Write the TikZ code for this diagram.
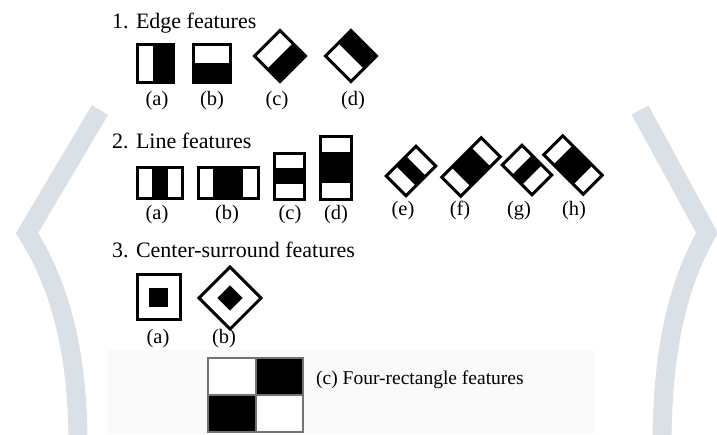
\documentclass[tikz,border=0pt]{standalone}
\usepackage{fontspec}
\setmainfont{Liberation Serif}
\definecolor{bandc}{HTML}{D9E1E6}
\begin{document}
\begin{tikzpicture}[x=1pt,y=-1pt,
  outl/.style={draw=black,line width=3pt},
  blk/.style={fill=black},
  head/.style={font=\fontsize{22}{24}\selectfont,anchor=base west,inner sep=0pt},
  lab/.style={font=\fontsize{20.5}{22}\selectfont,anchor=base,inner sep=0pt},
  band/.style={draw=bandc,line width=19pt},
  grid4/.style={draw=black!55,line width=1.3pt}]
\useasboundingbox (0,0) rectangle (717,434);
% background
\fill[black!2] (108,350) rectangle (595,434);
\draw[band] (100,110) -- (27,233) .. controls (50,270) and (78,330) .. (78,445);
\draw[band] (640,110) -- (707,233) .. controls (686,270) and (662,330) .. (662,445);
% headings
\node[head] (h1) at (112,28) {1. Edge features};
\node[head] (h2) at (112,148) {2. Line features};
\node[head] (h3) at (112,257) {3. Center-surround features};
\node[head,font=\fontsize{19.5}{22}\selectfont] (h4) at (316,384) {(c) Four-rectangle features};
% labels
\node[lab] (ea) at (157,105) {(a)};
\node[lab] (eb) at (212,105) {(b)};
\node[lab] (ec) at (277,105) {(c)};
\node[lab] (ed) at (353,105) {(d)};
\node[lab] (la) at (157,219) {(a)};
\node[lab] (lb) at (227,219) {(b)};
\node[lab] (lc) at (290,219) {(c)};
\node[lab] (ld) at (336,219) {(d)};
\node[lab] (le) at (403,215) {(e)};
\node[lab] (lf) at (460,215) {(f)};
\node[lab] (lg) at (519,215) {(g)};
\node[lab] (lh) at (574,215) {(h)};
\node[lab] (ca) at (158,343) {(a)};
\node[lab] (cb) at (224,343) {(b)};
% edge features
\fill[blk] (153,44) rectangle (173,82);
\draw[outl] (137,44) rectangle (173,82);
\fill[blk] (193,63) rectangle (230,82);
\draw[outl] (193,44) rectangle (230,82);
\begin{scope}[shift={(280,56)},rotate=45]
  \fill[blk] (-18,0) rectangle (18,18);
  \draw[outl] (-18,-18) rectangle (18,18);
\end{scope}
\begin{scope}[shift={(351,56)},rotate=45]
  \fill[blk] (0,-18) rectangle (18,18);
  \draw[outl] (-18,-18) rectangle (18,18);
\end{scope}
% line features
\fill[blk] (152,167) rectangle (168,198);
\draw[outl] (137,167) rectangle (182,198);
\fill[blk] (213,167) rectangle (243,198);
\draw[outl] (198,167) rectangle (258,198);
\fill[blk] (274,168) rectangle (304,184);
\draw[outl] (274,153) rectangle (304,199);
\fill[blk] (320,152) rectangle (351,183);
\draw[outl] (320,136) rectangle (351,199);
\begin{scope}[shift={(411,171)},rotate=45]
  \fill[blk] (-7,-14) rectangle (7,14);
  \draw[outl] (-21,-14) rectangle (21,14);
\end{scope}
\begin{scope}[shift={(471,167)},rotate=45]
  \fill[blk] (-14,-13.5) rectangle (14,13.5);
  \draw[outl] (-28,-13.5) rectangle (28,13.5);
\end{scope}
\begin{scope}[shift={(527,170)},rotate=-45]
  \fill[blk] (-7,-14) rectangle (7,14);
  \draw[outl] (-21,-14) rectangle (21,14);
\end{scope}
\begin{scope}[shift={(573,165)},rotate=-45]
  \fill[blk] (-14,-13.5) rectangle (14,13.5);
  \draw[outl] (-28,-13.5) rectangle (28,13.5);
\end{scope}
% center-surround
\draw[outl] (137,274) rectangle (180,319);
\fill[blk] (149,288) rectangle (168,307);
\begin{scope}[shift={(230,298)},rotate=45]
  \draw[outl,fill=white] (-22,-22) rectangle (22,22);
  \fill[blk] (-9,-9) rectangle (9,9);
\end{scope}
% four-rectangle
\fill[white] (208,358) rectangle (303,432);
\fill[blk] (256,358) rectangle (303,395);
\fill[blk] (208,395) rectangle (256,432);
\draw[grid4] (208,358) rectangle (303,432);
\draw[grid4] (256,358) -- (256,432);
\draw[grid4] (208,395) -- (303,395);
\end{tikzpicture}
\end{document}
